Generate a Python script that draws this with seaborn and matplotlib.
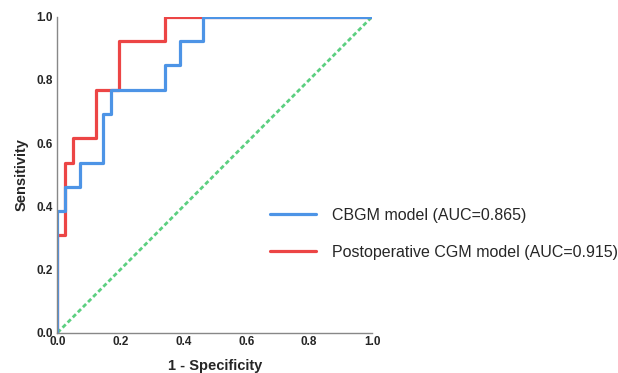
import matplotlib
matplotlib.use("Agg")
import matplotlib.pyplot as plt
import seaborn as sns
import pandas as pd
from matplotlib.lines import Line2D

# ROC curve vertices (1 - specificity, sensitivity)
cbgm_fpr = [0.0, 0.0, 0.024, 0.024, 0.073, 0.073, 0.146, 0.146, 0.171, 0.171,
            0.341, 0.341, 0.390, 0.390, 0.463, 0.463, 1.0]
cbgm_tpr = [0.0, 0.385, 0.385, 0.462, 0.462, 0.538, 0.538, 0.692, 0.692, 0.769,
            0.769, 0.846, 0.846, 0.923, 0.923, 1.0, 1.0]

cgm_fpr = [0.0, 0.0, 0.024, 0.024, 0.049, 0.049, 0.122, 0.122, 0.195, 0.195,
           0.341, 0.341, 1.0]
cgm_tpr = [0.0, 0.308, 0.308, 0.538, 0.538, 0.615, 0.615, 0.769, 0.769, 0.923,
           0.923, 1.0, 1.0]

ref_x = [0.0, 1.0]
ref_y = [0.0, 1.0]

labels = ["CBGM model (AUC=0.865)", "Postoperative CGM model (AUC=0.915)"]
ticks = [0.0, 0.2, 0.4, 0.6, 0.8, 1.0]

blue = "#4d94e6"
red = "#ec4545"
green = "#5ccf80"

sns.set_style("white")
plt.rcParams['font.family'] = ['Liberation Sans', 'DejaVu Sans']

fig = plt.figure(figsize=(6.18, 3.73), dpi=100)
ax = fig.add_axes([0.093, 0.108, 0.509, 0.847])

df_cbgm = pd.DataFrame({"fpr": cbgm_fpr, "tpr": cbgm_tpr})
df_cgm = pd.DataFrame({"fpr": cgm_fpr, "tpr": cgm_tpr})
df_ref = pd.DataFrame({"fpr": ref_x, "tpr": ref_y})

sns.lineplot(data=df_ref, x="fpr", y="tpr", ax=ax, color=green, lw=2,
             linestyle=(0, (1.6, 1.0)), sort=False, estimator=None)
# red first so blue sits on top, as in the original
sns.lineplot(data=df_cgm, x="fpr", y="tpr", ax=ax, color=red, lw=2.3,
             sort=False, estimator=None)
sns.lineplot(data=df_cbgm, x="fpr", y="tpr", ax=ax, color=blue, lw=2.3,
             sort=False, estimator=None)

ax.set_xlim(0, 1.0)
ax.set_ylim(0, 1.0)
ax.set_xticks(ticks)
ax.set_yticks(ticks)
ax.set_xticklabels([f"{t:.1f}" for t in ticks], fontsize=8.5, fontweight='bold')
ax.set_yticklabels([f"{t:.1f}" for t in ticks], fontsize=8.5, fontweight='bold')
ax.tick_params(axis='x', length=0, pad=2.5)
ax.tick_params(axis='y', length=0, pad=3.3)
ax.set_xlabel("1 - Specificity", fontsize=10.5, fontweight='bold', labelpad=8)
ax.set_ylabel("Sensitivity", fontsize=10.5, fontweight='bold', labelpad=5.5)

for s in ["top", "right"]:
    ax.spines[s].set_visible(False)
for s in ["left", "bottom"]:
    ax.spines[s].set_color("#888888")
    ax.spines[s].set_linewidth(1.0)

handles = [Line2D([], [], color=blue, lw=2.3), Line2D([], [], color=red, lw=2.3)]
fig.legend(handles, labels, loc='center left', bbox_to_anchor=(270 / 618, 0.373),
           frameon=False, fontsize=11.5, handlelength=2.9, handletextpad=1.0,
           labelspacing=1.35, borderpad=0, borderaxespad=0)

fig.savefig("out.png", dpi=100)
plt.close(fig)
